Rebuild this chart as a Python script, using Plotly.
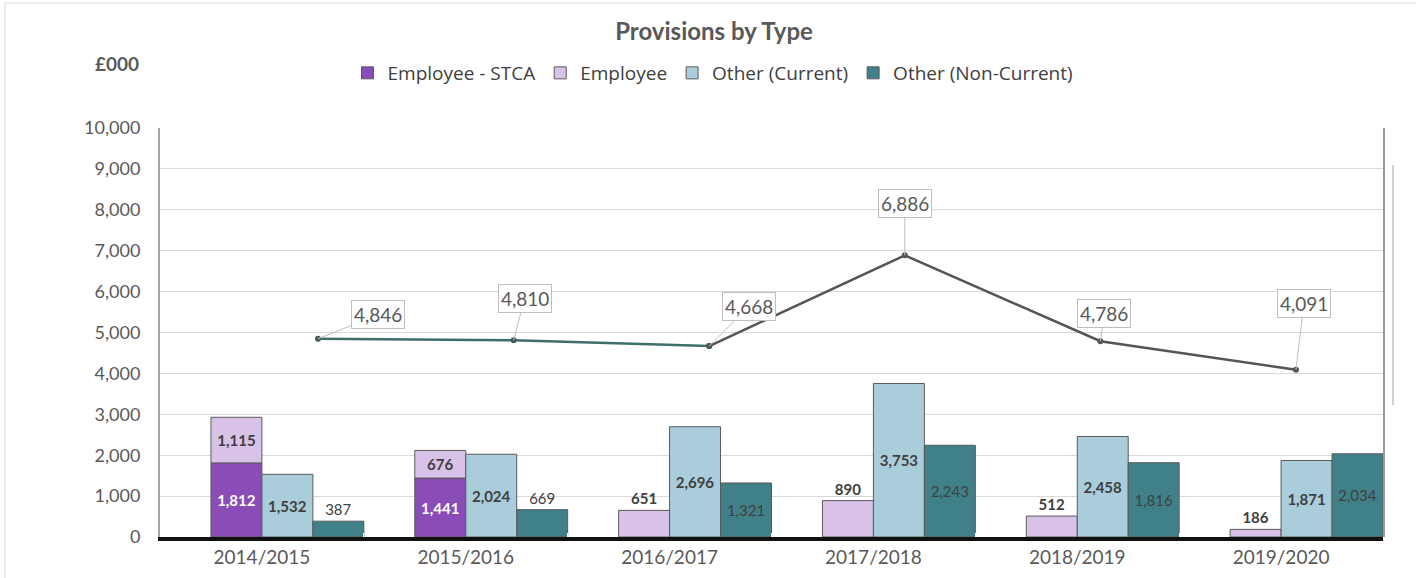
import plotly.graph_objects as go

years = ["2014/2015", "2015/2016", "2016/2017", "2017/2018", "2018/2019", "2019/2020"]
employee_stca = [1812, 1441, 0, 0, 0, 0]
employee = [1115, 676, 651, 890, 512, 186]
other_current = [1532, 2024, 2696, 3753, 2458, 1871]
other_non_current = [387, 669, 1321, 2243, 1816, 2034]
total = [4846, 4810, 4668, 6886, 4786, 4091]
y_ticks = [0, 1000, 2000, 3000, 4000, 5000, 6000, 7000, 8000, 9000, 10000]

FONT = "Lato"
LFONT = "Open Sans"
GREY = "#595959"
DARK = "#404040"
EDGE = "#5a5a5a"

# plot area geometry (pixels) for helper conversions of decorative shapes
L, R, T, B = 160, 33, 128, 41
PW, PH = 1416 - L - R, 578 - T - B


def px(xp):
    return (xp - L) / PW


def py(yp):
    return (578 - B - yp) / PH


fig = go.Figure()

fig.add_trace(go.Bar(
    name="Employee - STCA", x=years, y=employee_stca, offset=-0.25, width=0.25,
    marker=dict(color="#8a4db8", line=dict(color=EDGE, width=1)),
    text=[f"{v:,}" if v else "" for v in employee_stca], textposition="inside",
    insidetextanchor="middle",
    textfont=dict(family=FONT, size=15, color="white", weight="bold"),
))
fig.add_trace(go.Bar(
    name="Employee", x=years, y=employee, base=employee_stca, offset=-0.25, width=0.25,
    marker=dict(color="#d8c2e8", line=dict(color=EDGE, width=1)),
    text=[f"{v:,}" for v in employee],
    textposition=["inside" if s else "outside" for s in employee_stca],
    insidetextanchor="middle",
    textfont=dict(family=FONT, size=15, color=DARK, weight="bold"),
    cliponaxis=False,
))
fig.add_trace(go.Bar(
    name="Other (Current)", x=years, y=other_current, offset=0.0, width=0.25,
    marker=dict(color="#a9cddb", line=dict(color=EDGE, width=1)),
    text=[f"{v:,}" for v in other_current], textposition="inside",
    insidetextanchor="middle",
    textfont=dict(family=FONT, size=15, color=DARK, weight="bold"),
))
fig.add_trace(go.Bar(
    name="Other (Non-Current)", x=years, y=other_non_current, offset=0.25, width=0.25,
    marker=dict(color="#3f8089", line=dict(color=EDGE, width=1)),
    text=[f"{v:,}" for v in other_non_current],
    textposition=["outside" if v < 1000 else "inside" for v in other_non_current],
    insidetextanchor="middle",
    textfont=dict(family=FONT, size=15, color=DARK),
    cliponaxis=False,
))

# Total line on a separate category axis mimicking the 3D perspective of the original
fig.add_trace(go.Scatter(
    x=years[:3], y=total[:3], xaxis="x2", mode="lines+markers",
    line=dict(color="#3e6f6a", width=2.5),
    marker=dict(size=6, color="#4a5a58"), showlegend=False, hoverinfo="skip",
))
fig.add_trace(go.Scatter(
    x=years[2:], y=total[2:], xaxis="x2", mode="lines+markers",
    line=dict(color="#555555", width=2.5),
    marker=dict(size=6, color="#555555"), showlegend=False, hoverinfo="skip",
))

callout_offsets = [(60, -24), (11, -42), (40, -40), (0, -52), (4, -28), (8, -66)]
for yr, v, (ax, ay) in zip(years, total, callout_offsets):
    fig.add_annotation(
        x=yr, y=v, xref="x2", yref="y", text=f"{v:,}",
        showarrow=True, arrowhead=0, arrowwidth=1, arrowcolor="#bfbfbf",
        ax=ax, ay=ay, bordercolor="#bfbfbf", borderwidth=1, borderpad=2,
        bgcolor="white", font=dict(family=FONT, size=19, color=GREY),
    )

fig.add_annotation(
    text="<b>£000</b>", xref="paper", yref="paper", x=px(141), y=py(64),
    xanchor="right", yanchor="middle", showarrow=False,
    font=dict(family=FONT, size=19, color=GREY),
)

# Outer chart border (left and top edges visible in the original)
fig.add_shape(type="line", xref="paper", yref="paper",
              x0=px(5), x1=px(5), y0=py(578), y1=py(3),
              line=dict(color="#d9d9d9", width=1))
fig.add_shape(type="line", xref="paper", yref="paper",
              x0=px(5), x1=px(1416), y0=py(3), y1=py(3),
              line=dict(color="#d9d9d9", width=1))
# right-side faint vertical line
fig.add_shape(type="line", xref="paper", yref="paper",
              x0=px(1393), x1=px(1393), y0=py(405), y1=py(165),
              line=dict(color="#d0d0d0", width=2))
# plot-area right edge shadow
fig.add_shape(type="line", xref="paper", yref="paper",
              x0=px(1384), x1=px(1384), y0=py(537), y1=py(128),
              line=dict(color="#9a9a9a", width=2))

fig.update_layout(
    width=1416, height=578,
    margin=dict(l=L, r=R, t=T, b=B, autoexpand=False),
    paper_bgcolor="white", plot_bgcolor="white",
    barmode="overlay",
    title=dict(text="<b>Provisions by Type</b>", x=px(714), xref="paper", xanchor="center",
               y=1 - 32 / 578, yanchor="middle",
               font=dict(family=FONT, size=24, color=GREY)),
    legend=dict(orientation="h", x=px(713), xanchor="center", y=py(73), yanchor="middle",
                font=dict(family=LFONT, size=19, color=DARK), itemwidth=30,
                traceorder="normal"),
    xaxis=dict(type="category", range=[-0.5, 5.5], showgrid=False,
               tickfont=dict(family=FONT, size=19, color=GREY),
               showline=True, linecolor="#111111", linewidth=4,
               ticks="inside", tickson="boundaries", tickcolor="white", ticklen=4, tickwidth=1),
    xaxis2=dict(type="category", overlaying="x", range=[-0.808, 5.445], visible=False),
    yaxis=dict(range=[0, 10000], tickvals=y_ticks, tickformat=",d",
               tickfont=dict(family=FONT, size=18, color=GREY),
               gridcolor="#d9d9d9", gridwidth=1, zeroline=False,
               showline=True, linecolor="#a6a6a6", linewidth=2, ticks="", ticklabelstandoff=14),
    showlegend=True,
)

fig.write_html("out.html", post_script="document.body.style.margin='0';",
               config={"displayModeBar": False})
